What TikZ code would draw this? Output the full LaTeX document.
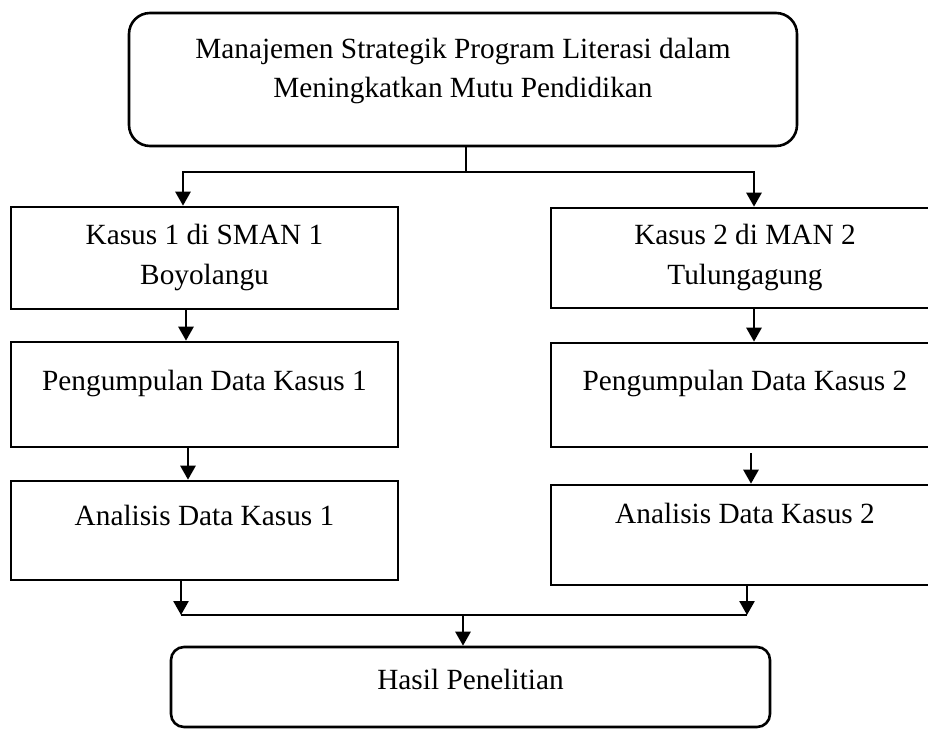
\documentclass[tikz,border=0pt]{standalone}
\usepackage{fontspec}
\setmainfont{Liberation Serif}
\usetikzlibrary{arrows.meta}

\tikzset{
  box/.style={draw, line width=2.6pt, inner sep=0pt},
  txt/.style={font=\fontsize{29.3}{39.5}\selectfont, align=center, inner sep=0pt},
  link/.style={line width=2.6pt},
  arr/.style={line width=2.6pt, -{Triangle[width=15pt,length=14pt]}}
}

\begin{document}
\begin{tikzpicture}[x=1pt, y=-1pt]
        \useasboundingbox (0,0) rectangle (928,729);

        % Top box
        \node[box, rounded corners=21pt, minimum width=668pt, minimum height=133pt] (top) at (463,79.5) {};
        \node[txt] (top-t) at (463,71) {Manajemen Strategik Program Literasi dalam\\Meningkatkan Mutu Pendidikan};

        % Case 1 column
        \node[box, minimum width=387pt, minimum height=102pt] (k1) at (204.5,258) {};
        \node[txt] (k1-t) at (204.5,257.5) {Kasus 1 di SMAN 1\\Boyolangu};
        \node[box, minimum width=387pt, minimum height=105pt] (pk1) at (204.5,394.5) {};
        \node[txt, anchor=base] (pk1-t) at (204.5,390.7) {Pengumpulan Data Kasus 1};
        \node[box, minimum width=387pt, minimum height=99pt] (a1) at (204.5,530.5) {};
        \node[txt, anchor=base] (a1-t) at (204.5,525.7) {Analisis Data Kasus 1};

        % Case 2 column
        \node[box, minimum width=388pt, minimum height=100pt] (k2) at (745,258) {};
        \node[txt] (k2-t) at (745,257.5) {Kasus 2 di MAN 2\\Tulungagung};
        \node[box, minimum width=388pt, minimum height=104pt] (pk2) at (745,395) {};
        \node[txt, anchor=base] (pk2-t) at (745,390.7) {Pengumpulan Data Kasus 2};
        \node[box, minimum width=388pt, minimum height=100pt] (a2) at (745,535) {};
        \node[txt, anchor=base] (a2-t) at (745,523.3) {Analisis Data Kasus 2};

        % Result
        \node[box, rounded corners=13pt, minimum width=599pt, minimum height=80pt] (hasil) at (470.5,687) {};
        \node[txt, anchor=base] (hasil-t) at (470.5,689) {Hasil Penelitian};

        % Split
        \coordinate (jt) at (466,172);
        \coordinate (jl) at (183,172);
        \coordinate (jr) at (754,172);
        \draw[link] (top.south -| jt) -- (jt);
        \draw[arr] (jt) -| (jl |- k1.north);
        \draw[arr] (jt) -| (jr |- k2.north);

        % Down the columns
        \draw[arr] ([xshift=-18.5pt]k1.south) -- ([xshift=-18.5pt]pk1.north);
        \draw[arr] ([xshift=-16.5pt]pk1.south) -- ([xshift=-16.5pt]a1.north);
        \draw[arr] ([xshift=9pt]k2.south) -- ([xshift=9pt]pk2.north);
        \draw[arr] ([xshift=6pt,yshift=-5pt]pk2.south) -- ([xshift=6pt]a2.north);

        % Merge
        \coordinate (bl) at (181,615);
        \coordinate (br) at (747,615);
        \coordinate (bc) at (463,615);
        \draw[arr] ([xshift=-23.5pt]a1.south) -- (bl);
        \draw[arr] ([xshift=2pt]a2.south) -- (br);
        \draw[link] (bl) -- (br);
        \draw[arr] (bc) -- (bc |- hasil.north);
\end{tikzpicture}
\end{document}
